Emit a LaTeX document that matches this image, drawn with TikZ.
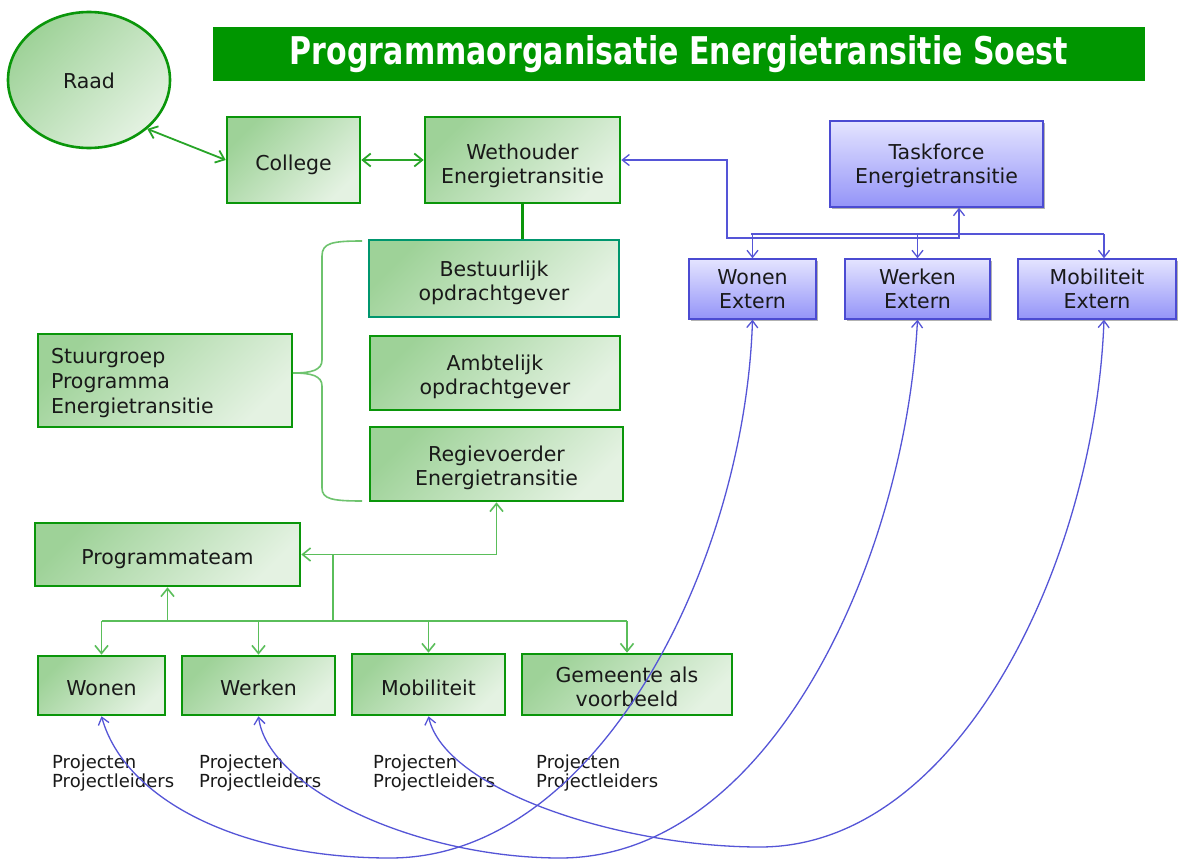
\documentclass[tikz,border=0pt]{standalone}
\usepackage{fontspec}
\setmainfont{DejaVu Sans}
\usetikzlibrary{arrows.meta,shapes.geometric,shadows}
\definecolor{gborder}{RGB}{10,150,10}
\definecolor{tborder}{RGB}{0,150,110}
\definecolor{gfillA}{RGB}{158,210,152}
\definecolor{gfillB}{RGB}{228,242,226}
\definecolor{gline}{RGB}{40,165,40}
\definecolor{glightc}{RGB}{90,190,90}
\definecolor{bracecol}{RGB}{110,195,110}
\definecolor{bborder}{RGB}{75,75,210}
\definecolor{bfillA}{RGB}{228,228,255}
\definecolor{bfillB}{RGB}{148,148,248}
\definecolor{bcurve}{RGB}{85,85,215}
\definecolor{txt}{RGB}{25,25,25}
\definecolor{titlegreen}{RGB}{0,150,0}
\newcommand\dn[2][4pt]{\raisebox{-#1}[\height][\depth]{#2}}
\begin{document}
\begin{tikzpicture}[x=1pt,y=-1pt,
  boxfont/.style={font=\fontsize{20.5}{24}\selectfont},
  gbox/.style={draw=gborder, line width=2.6pt, top color=gfillA, bottom color=gfillB, shading angle=45, align=center, text=txt, boxfont, inner sep=2pt},
  bbox/.style={draw=bborder, line width=1.4pt, top color=bfillA, bottom color=bfillB, align=center, text=txt, boxfont, inner sep=2pt,
    drop shadow={shadow xshift=1.5pt, shadow yshift=-1.5pt, opacity=.3, fill=black}},
  garr/.style={draw=gline, line width=1.8pt, arrows={Straight Barb[length=8pt,width=13pt]-Straight Barb[length=8pt,width=13pt]}},
  glight/.style={draw=glightc, line width=1.6pt},
  gtip/.style={-{Straight Barb[length=8pt,width=13pt]}},
  gboth/.style={{Straight Barb[length=8pt,width=13pt]}-{Straight Barb[length=8pt,width=13pt]}},
  bline/.style={draw=bcurve, line width=1.3pt},
  btip/.style={-{Straight Barb[length=7pt,width=11pt]}},
  bboth/.style={{Straight Barb[length=7pt,width=11pt]}-{Straight Barb[length=7pt,width=11pt]}},
  lbl/.style={font=\fontsize{18}{19}\selectfont, text=txt, align=left, inner sep=0pt, anchor=north west}
]
\useasboundingbox (0,0) rectangle (1178,859);
\fill[white] (0,0) rectangle (1178,859);

% title
\node[fill=titlegreen, minimum width=932pt, minimum height=54pt, inner sep=0pt, text=white] (title) at (679,54)
  {\resizebox{778pt}{29pt}{\bfseries Programmaorganisatie Energietransitie Soest}};

% green nodes
\node[gbox, ellipse, minimum width=162pt, minimum height=136pt] (raad) at (89,80) {\dn[1pt]{Raad}};
\node[gbox, minimum width=133pt, minimum height=86pt] (college) at (293.5,160) {\dn[5pt]{College}};
\node[gbox, minimum width=195pt, minimum height=86pt] (weth) at (522.5,160) {\dn[6pt]{Wethouder}\\\dn[6pt]{Energietransitie}};
\node[gbox, draw=tborder, minimum width=250pt, minimum height=77pt] (best) at (494,278.5) {\dn{Bestuurlijk}\\\dn{opdrachtgever}};
\node[gbox, minimum width=250pt, minimum height=74pt] (ambt) at (495,373) {\dn{Ambtelijk}\\\dn{opdrachtgever}};
\node[gbox, minimum width=253pt, minimum height=74pt] (regie) at (496.5,464) {\dn{Regievoerder}\\\dn{Energietransitie}};
\node[gbox, line width=1.6pt, minimum width=254pt, minimum height=87pt, text width=228pt, align=left, font=\fontsize{20.5}{25}\selectfont, inner sep=12pt] (stuur) at (165,380.5) {\dn[3pt]{Stuurgroep}\\\dn[3pt]{Programma}\\\dn[3pt]{Energietransitie}};
\node[gbox, minimum width=265pt, minimum height=63pt] (prog) at (167.5,554.5) {\dn[5pt]{Programmateam}};
\node[gbox, minimum width=127pt, minimum height=59pt] (wonen) at (101.5,685.5) {\dn[3pt]{Wonen}};
\node[gbox, minimum width=153pt, minimum height=59pt] (werken) at (258.5,685.5) {\dn[2pt]{Werken}};
\node[gbox, minimum width=153pt, minimum height=61pt] (mobil) at (428.5,684.5) {\dn[3pt]{Mobiliteit}};
\node[gbox, minimum width=210pt, minimum height=61pt] (gem) at (627,684.5) {\dn[2pt]{Gemeente als}\\\dn[2pt]{voorbeeld}};

% blue nodes
\node[bbox, minimum width=213pt, minimum height=86pt] (task) at (936.5,164) {\dn[2pt]{Taskforce}\\\dn[2pt]{Energietransitie}};
\node[bbox, minimum width=127pt, minimum height=60pt] (wonx) at (752.5,289) {Wonen\\Extern};
\node[bbox, minimum width=145pt, minimum height=60pt] (werx) at (917.5,289) {Werken\\Extern};
\node[bbox, minimum width=158pt, minimum height=60pt] (mobx) at (1097,289) {Mobiliteit\\Extern};

% labels
\node[lbl] (p1) at (52,755) {Projecten\\Projectleiders};
\node[lbl] (p2) at (199,755) {Projecten\\Projectleiders};
\node[lbl] (p3) at (373,755) {Projecten\\Projectleiders};
\node[lbl] (p4) at (536,755) {Projecten\\Projectleiders};

% brace
\draw[bracecol, line width=1.6pt] (362,241) .. controls (332,241) and (322,243) .. (322,256) -- (322,360)
  .. controls (322,370) and (312,373) .. (stuur.east |- 0,373) .. controls (312,373) and (322,376) .. (322,386)
  -- (322,488) .. controls (322,499) and (332,501) .. (362,501);

% green connectors
\draw[garr] (raad.-40) -- (college.west);
\draw[garr] (college.east) -- (weth.west);
\draw[draw=gborder, line width=3pt] (weth.south) -- (weth.south |- best.north);
\coordinate (j1) at (333,555);
\coordinate (bar) at (333,621);
\draw[glight, gboth] (prog.east) -| (regie.south);
\draw[glight] (j1) -- (bar);
\draw[glight] (wonen.north |- bar) -- (gem.north |- bar);
\draw[glight, gtip] (prog.south |- bar) -- (prog.south);
\draw[glight, gtip] (wonen.north |- bar) -- (wonen.north);
\draw[glight, gtip] (werken.north |- bar) -- (werken.north);
\draw[glight, gtip] (mobil.north |- bar) -- (mobil.north);
\draw[glight, gtip] (gem.north |- bar) -- (gem.north);

% blue connectors
\coordinate (bl) at (727,238);
\coordinate (tk) at (959,238);
\coordinate (bu) at (751,234);
\coordinate (mx) at (1104,234);
\draw[bline, bboth] (weth.east) -| (bl) -- (tk) -- (tk |- task.south);
\draw[bline] (bu) -- (mx);
\draw[bline, btip] (wonx.north |- bu) -- (wonx.north);
\draw[bline, btip] (werx.north |- bu) -- (werx.north);
\draw[bline, btip] (mx) -- (mx |- mobx.north);

% blue curves
\draw[bline, bboth]
  (wonen.south) .. controls (125,800) and (240,858) .. (390,858) .. controls (600,858) and (745,560) .. (wonx.south);
\draw[bline, bboth]
  (werken.south) .. controls (268,790) and (420,858) .. (560,858) .. controls (770,858) and (905,560) .. (werx.south);
\draw[bline, bboth]
  (mobil.south) .. controls (445,790) and (620,847) .. (760,847) .. controls (960,847) and (1095,560) .. (mx |- mobx.south);
\end{tikzpicture}
\end{document}
